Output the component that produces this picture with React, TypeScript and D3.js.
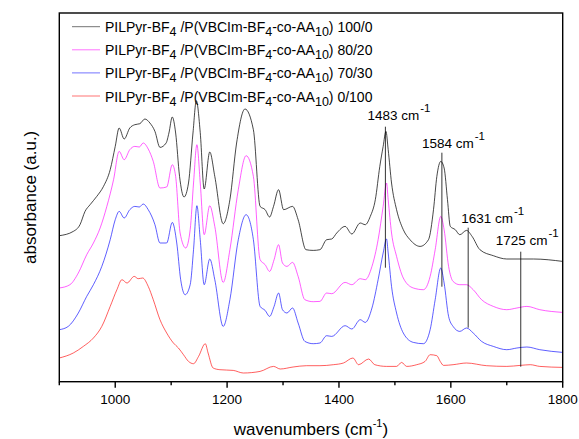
import React from "react";
import * as d3 from "d3";

// ---------- DATA ----------
const blackWn = [900, 925, 937, 946, 955, 967, 979, 991, 1000, 1007, 1016, 1026, 1035, 1044, 1053, 1062, 1071, 1080, 1091, 1096, 1102, 1108, 1115, 1123, 1131, 1139, 1145, 1152, 1159, 1169, 1178, 1193, 1205, 1217, 1232, 1247, 1259, 1268, 1276, 1283, 1292, 1301, 1317, 1327, 1341, 1354, 1366, 1378, 1387, 1396, 1411, 1423, 1438, 1447, 1456, 1465, 1473, 1479, 1484, 1488, 1494, 1503, 1515, 1527, 1545, 1560, 1569, 1575, 1582, 1588, 1594, 1599, 1608, 1616, 1628, 1638, 1652, 1676, 1700, 1748, 1800];
const blackAbs = [1.46, 1.503, 1.57, 1.703, 1.77, 1.853, 1.953, 2.12, 2.353, 2.537, 2.427, 2.537, 2.57, 2.58, 2.627, 2.587, 2.503, 2.343, 2.387, 2.487, 2.647, 2.487, 2.053, 1.847, 1.987, 2.487, 2.81, 2.49, 1.927, 2.297, 2.053, 1.58, 1.82, 2.387, 2.727, 2.52, 1.753, 1.72, 1.647, 1.753, 1.92, 1.72, 1.753, 1.62, 1.32, 1.313, 1.32, 1.42, 1.427, 1.487, 1.553, 1.477, 1.587, 1.57, 1.653, 1.82, 2.153, 2.353, 2.503, 2.32, 1.987, 1.72, 1.52, 1.42, 1.353, 1.42, 1.72, 2.053, 2.203, 2.137, 1.82, 1.553, 1.52, 1.47, 1.513, 1.453, 1.32, 1.26, 1.227, 1.227, 1.203];

const magentaWn = [900, 919, 934, 949, 961, 973, 985, 997, 1007, 1016, 1026, 1035, 1043, 1050, 1059, 1068, 1080, 1092, 1102, 1108, 1116, 1126, 1134, 1140, 1146, 1152, 1159, 1169, 1178, 1193, 1205, 1220, 1234, 1247, 1259, 1268, 1276, 1284, 1292, 1299, 1307, 1317, 1327, 1339, 1354, 1366, 1378, 1387, 1411, 1423, 1438, 1447, 1459, 1470, 1479, 1485, 1488, 1494, 1503, 1515, 1533, 1551, 1563, 1572, 1582, 1588, 1596, 1604, 1616, 1628, 1640, 1655, 1676, 1700, 1718, 1736, 1759, 1800];
const magentaAbs = [0.937, 0.97, 1.087, 1.27, 1.387, 1.537, 1.753, 2.02, 2.303, 2.22, 2.32, 2.353, 2.347, 2.387, 2.327, 2.203, 1.937, 1.947, 2.17, 2.053, 1.487, 1.337, 1.52, 1.987, 2.37, 1.987, 1.47, 1.76, 1.553, 0.993, 1.32, 1.92, 2.26, 2.053, 1.22, 1.17, 1.103, 1.22, 1.37, 1.187, 1.153, 1.193, 1.053, 0.82, 0.8, 0.803, 0.887, 0.88, 0.993, 0.97, 1.03, 1.02, 1.153, 1.42, 1.753, 1.987, 1.82, 1.487, 1.253, 1.037, 0.937, 0.92, 1.053, 1.32, 1.653, 1.52, 1.153, 1.003, 0.97, 0.97, 0.92, 0.82, 0.753, 0.72, 0.737, 0.753, 0.72, 0.693];

const blueWn = [900, 916, 934, 949, 961, 976, 991, 1000, 1007, 1016, 1026, 1035, 1043, 1050, 1059, 1071, 1080, 1092, 1102, 1110, 1117, 1125, 1134, 1140, 1146, 1152, 1159, 1169, 1178, 1193, 1205, 1220, 1234, 1247, 1259, 1268, 1276, 1284, 1292, 1299, 1307, 1317, 1327, 1339, 1354, 1366, 1378, 1387, 1411, 1423, 1438, 1447, 1459, 1470, 1479, 1485, 1488, 1494, 1503, 1515, 1533, 1551, 1563, 1572, 1582, 1588, 1596, 1604, 1616, 1628, 1640, 1655, 1676, 1700, 1718, 1736, 1759, 1800];
const blueAbs = [0.52, 0.553, 0.687, 0.853, 0.97, 1.153, 1.42, 1.62, 1.703, 1.637, 1.72, 1.753, 1.747, 1.777, 1.72, 1.57, 1.387, 1.387, 1.593, 1.387, 1.02, 0.87, 0.97, 1.32, 1.76, 1.42, 0.97, 1.227, 1.02, 0.553, 0.82, 1.42, 1.67, 1.42, 0.753, 0.713, 0.653, 0.753, 0.887, 0.72, 0.687, 0.737, 0.587, 0.403, 0.38, 0.387, 0.46, 0.453, 0.56, 0.527, 0.62, 0.593, 0.737, 1.02, 1.287, 1.427, 1.287, 0.953, 0.687, 0.487, 0.393, 0.38, 0.52, 0.82, 1.137, 0.987, 0.653, 0.553, 0.503, 0.537, 0.487, 0.403, 0.353, 0.32, 0.337, 0.347, 0.32, 0.293];

const redWn = [900, 925, 943, 961, 976, 991, 1003, 1012, 1021, 1034, 1041, 1049, 1059, 1068, 1080, 1092, 1104, 1113, 1122, 1131, 1140, 1149, 1161, 1166, 1175, 1187, 1211, 1229, 1259, 1283, 1295, 1318, 1342, 1366, 1390, 1408, 1425, 1435, 1453, 1464, 1485, 1503, 1512, 1521, 1539, 1554, 1563, 1575, 1581, 1587, 1604, 1628, 1664, 1700, 1724, 1742, 1759, 1800];
const redAbs = [0.237, 0.287, 0.353, 0.437, 0.553, 0.753, 0.92, 1.02, 0.987, 1.053, 1.03, 1.037, 0.953, 0.82, 0.62, 0.487, 0.387, 0.337, 0.27, 0.203, 0.18, 0.253, 0.38, 0.287, 0.137, 0.12, 0.113, 0.087, 0.103, 0.153, 0.127, 0.147, 0.16, 0.16, 0.17, 0.187, 0.237, 0.17, 0.227, 0.17, 0.153, 0.153, 0.193, 0.153, 0.17, 0.203, 0.27, 0.26, 0.203, 0.163, 0.17, 0.187, 0.16, 0.153, 0.163, 0.17, 0.153, 0.143];

const legendRatios = ["100/0", "80/20", "70/30", "0/100"];
const seriesColors = ["#000000", "#ff00ff", "#0000ff", "#ff0000"];

const peakLabels = [1483, 1584, 1631, 1725];
const peakLineTop = [2.55, 2.29, 1.54, 1.30];
const peakLineBottom = [1.14, 0.95, 0.54, 0.15];
const peakLabelY = [2.613, 2.34, 1.59, 1.37];

const xMajorTicks = [1000, 1200, 1400, 1600, 1800];
const xMinorTicks = [900, 1100, 1300, 1500, 1700];

// ---------- LAYOUT ----------
const W = 579;
const H = 439;
const L = 59.3;
const R = 562.7;
const T = 13;
const B = 381.7;
const FONT = "'Liberation Sans', Arial, Helvetica, sans-serif";
const LABEL_DX = [-18, -20, -7, -25];

export default function App() {
  const x = d3.scaleLinear().domain([900, 1800]).range([L, R]);
  const y = d3.scaleLinear().domain([0, 3.687]).range([B, T]);

  const series = [
    { wn: blackWn, ab: blackAbs },
    { wn: magentaWn, ab: magentaAbs },
    { wn: blueWn, ab: blueAbs },
    { wn: redWn, ab: redAbs },
  ];

  const line = d3
    .line<[number, number]>()
    .x((d) => x(d[0]))
    .y((d) => y(d[1]))
    .curve(d3.curveMonotoneX);

  return (
    <svg
      width={W}
      height={H}
      style={{ position: "absolute", left: 0, top: 0, background: "#fff" }}
      fontFamily={FONT}
    >
      <rect x={0} y={0} width={W} height={H} fill="#fff" />
      {/* curves */}
      {series.map((s, i) => (
        <path
          key={i}
          d={line(s.wn.map((w, k) => [w, s.ab[k]] as [number, number])) || ""}
          fill="none"
          stroke={seriesColors[i]}
          strokeWidth={0.9}
          strokeOpacity={i === 0 ? 0.8 : 0.7}
        />
      ))}

      {/* peak annotations */}
      {peakLabels.map((p, i) => (
        <g key={p}>
          <line
            x1={x(p)}
            x2={x(p)}
            y1={y(peakLineTop[i])}
            y2={y(peakLineBottom[i])}
            stroke="#000"
            strokeWidth={1}
            strokeOpacity={0.8}
          />
          <text x={x(p) + LABEL_DX[i]} y={y(peakLabelY[i])} fontSize={13.5} fill="#000">
            {`${p} cm`}
            <tspan fontSize={11.5} dx={1} dy={-8}>-1</tspan>
          </text>
        </g>
      ))}

      {/* frame */}
      <rect x={L} y={T} width={R - L} height={B - T} fill="none" stroke="#000" strokeWidth={1.4} />

      {/* x ticks */}
      {xMajorTicks.map((t) => (
        <g key={t}>
          <line x1={x(t)} x2={x(t)} y1={B} y2={B + 6} stroke="#000" strokeWidth={1.4} />
          <text x={x(t)} y={404} fontSize={13.5} textAnchor="middle" fill="#000">
            {t}
          </text>
        </g>
      ))}
      {xMinorTicks.map((t) => (
        <line key={t} x1={x(t)} x2={x(t)} y1={B} y2={B + 3.5} stroke="#000" strokeWidth={1.4} />
      ))}

      {/* axis titles */}
      <text x={(L + R) / 2} y={435} fontSize={17} textAnchor="middle" fill="#000">
        wavenumbers (cm
        <tspan fontSize={11} dy={-8}>-1</tspan>
        <tspan dy={8}>)</tspan>
      </text>
      <text
        transform={`translate(36, ${(T + B) / 2}) rotate(-90)`}
        fontSize={17}
        textAnchor="middle"
        fill="#000"
      >
        absorbance (a.u.)
      </text>

      {/* legend */}
      {legendRatios.map((r, i) => {
        const cy = 26.7 + i * 23.1;
        return (
          <g key={r}>
            <line x1={72} x2={100} y1={cy} y2={cy} stroke={seriesColors[i]} strokeWidth={1} strokeOpacity={0.55} />
            <text x={105} y={cy + 5.5} fontSize={14} fill="#000">
              PILPyr-BF
              <tspan fontSize={12.5} dy={4}>4</tspan>
              <tspan dy={-4}> /P(VBCIm-BF</tspan>
              <tspan fontSize={12.5} dy={4}>4</tspan>
              <tspan dy={-4}>-co-AA</tspan>
              <tspan fontSize={12.5} dy={4}>10</tspan>
              <tspan dy={-4}>{`) ${r}`}</tspan>
            </text>
          </g>
        );
      })}
    </svg>
  );
}
